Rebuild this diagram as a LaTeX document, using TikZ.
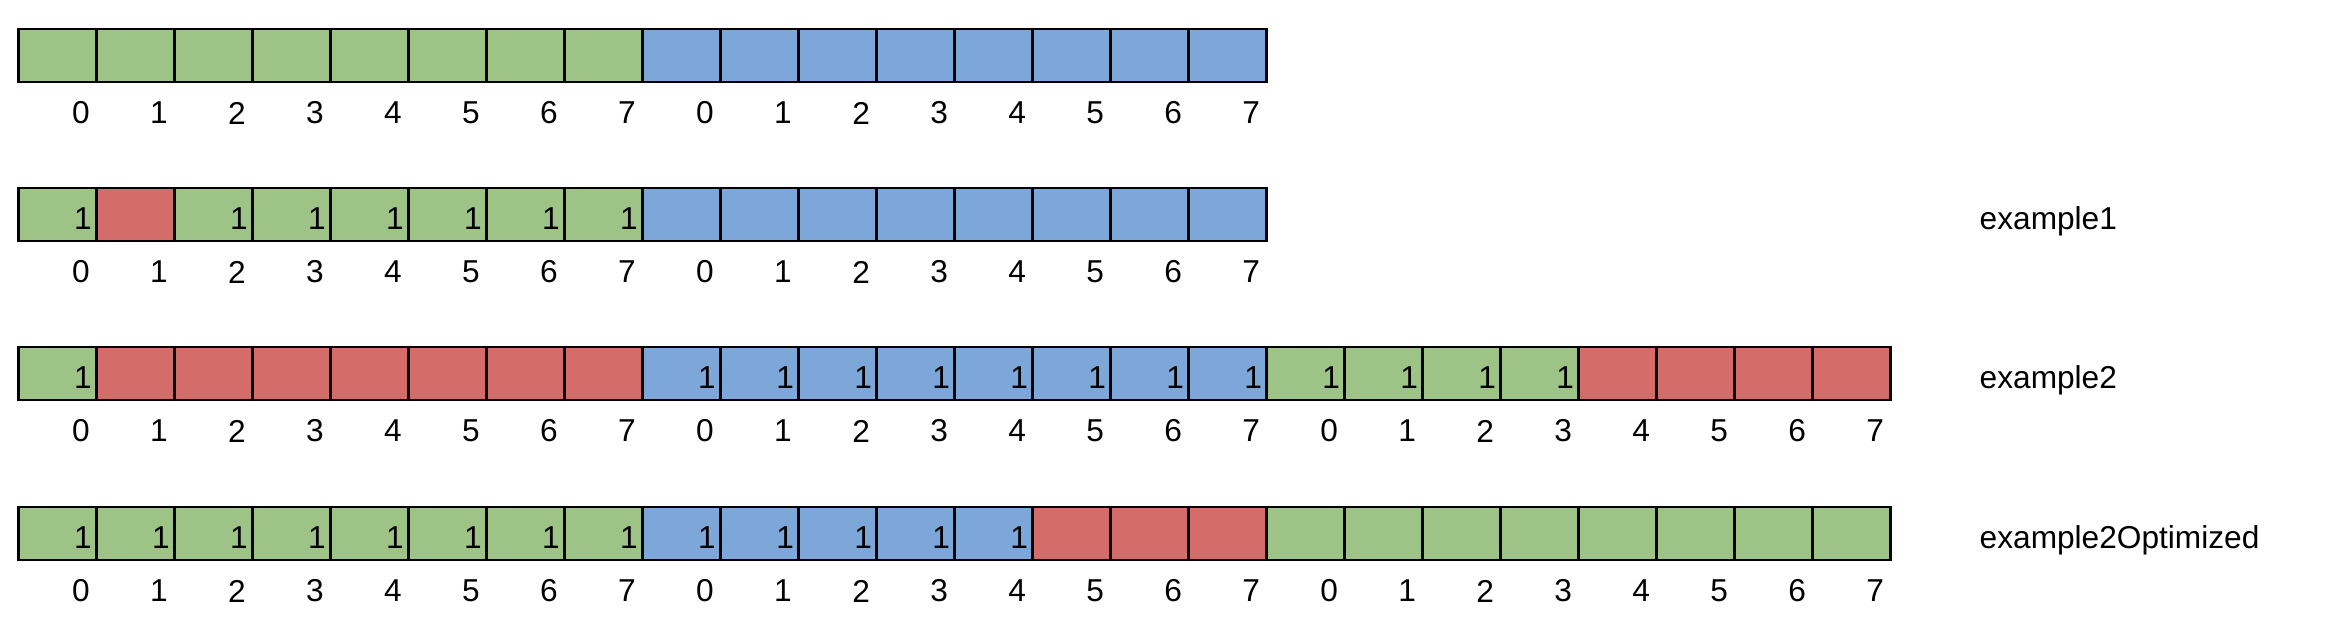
\documentclass[tikz,border=0pt]{standalone}
\usepackage{fontspec}
\setmainfont{Liberation Sans}
\usetikzlibrary{positioning}

\definecolor{cellgreen}{HTML}{9EC386}
\definecolor{cellblue}{HTML}{7CA7D8}
\definecolor{cellred}{HTML}{D46C6A}

\begin{document}
\begin{tikzpicture}[
    x=0.01cm, y=-0.01cm,
    font=\fontsize{9pt}{11pt}\selectfont,
    cell/.style={rectangle, draw, line width=0.022cm, minimum width=0.78cm, minimum height=0.53cm, inner sep=0, outer sep=0, anchor=north west},
    cellg/.style={cell, fill=cellgreen},
    cellb/.style={cell, fill=cellblue},
    cellr/.style={cell, fill=cellred},
    num/.style={inner sep=0},
    idx/.style={inner sep=0},
    rowlabel/.style={inner sep=0, anchor=base west}
]
\useasboundingbox (0,0) rectangle (2328,624);

% Rows of cells (colour / value shown), index under each cell
\foreach \r/\top/\cells in {
  1/29/{g/0,g/0,g/0,g/0,g/0,g/0,g/0,g/0,b/0,b/0,b/0,b/0,b/0,b/0,b/0,b/0},
  2/188/{g/1,r/0,g/1,g/1,g/1,g/1,g/1,g/1,b/0,b/0,b/0,b/0,b/0,b/0,b/0,b/0},
  3/347/{g/1,r/0,r/0,r/0,r/0,r/0,r/0,r/0,b/1,b/1,b/1,b/1,b/1,b/1,b/1,b/1,g/1,g/1,g/1,g/1,r/0,r/0,r/0,r/0},
  4/507/{g/1,g/1,g/1,g/1,g/1,g/1,g/1,g/1,b/1,b/1,b/1,b/1,b/1,r/0,r/0,r/0,g/0,g/0,g/0,g/0,g/0,g/0,g/0,g/0}} {
  \foreach \c/\v [count=\i from 0] in \cells {
    \node[cell\c] (cell-\r-\i) at (18.5+\i*78, \top) {};
    \ifnum\v=1
      \node[num] (num-\r-\i) at ([xshift=-0.135cm, yshift=-0.045cm]cell-\r-\i.east) {1};
    \fi
    \pgfmathtruncatemacro\k{mod(\i,8)}
    \node[idx] (idx-\r-\i) at ([xshift=-0.155cm, yshift=-0.31cm]cell-\r-\i.south east) {\k};
  }
}

% Row names
\node[rowlabel] (name-2) at (1979,229.5) {example1};
\node[rowlabel] (name-3) at (1979,388.5) {example2};
\node[rowlabel] (name-4) at (1979,548.5) {example2Optimized};

\end{tikzpicture}
\end{document}
